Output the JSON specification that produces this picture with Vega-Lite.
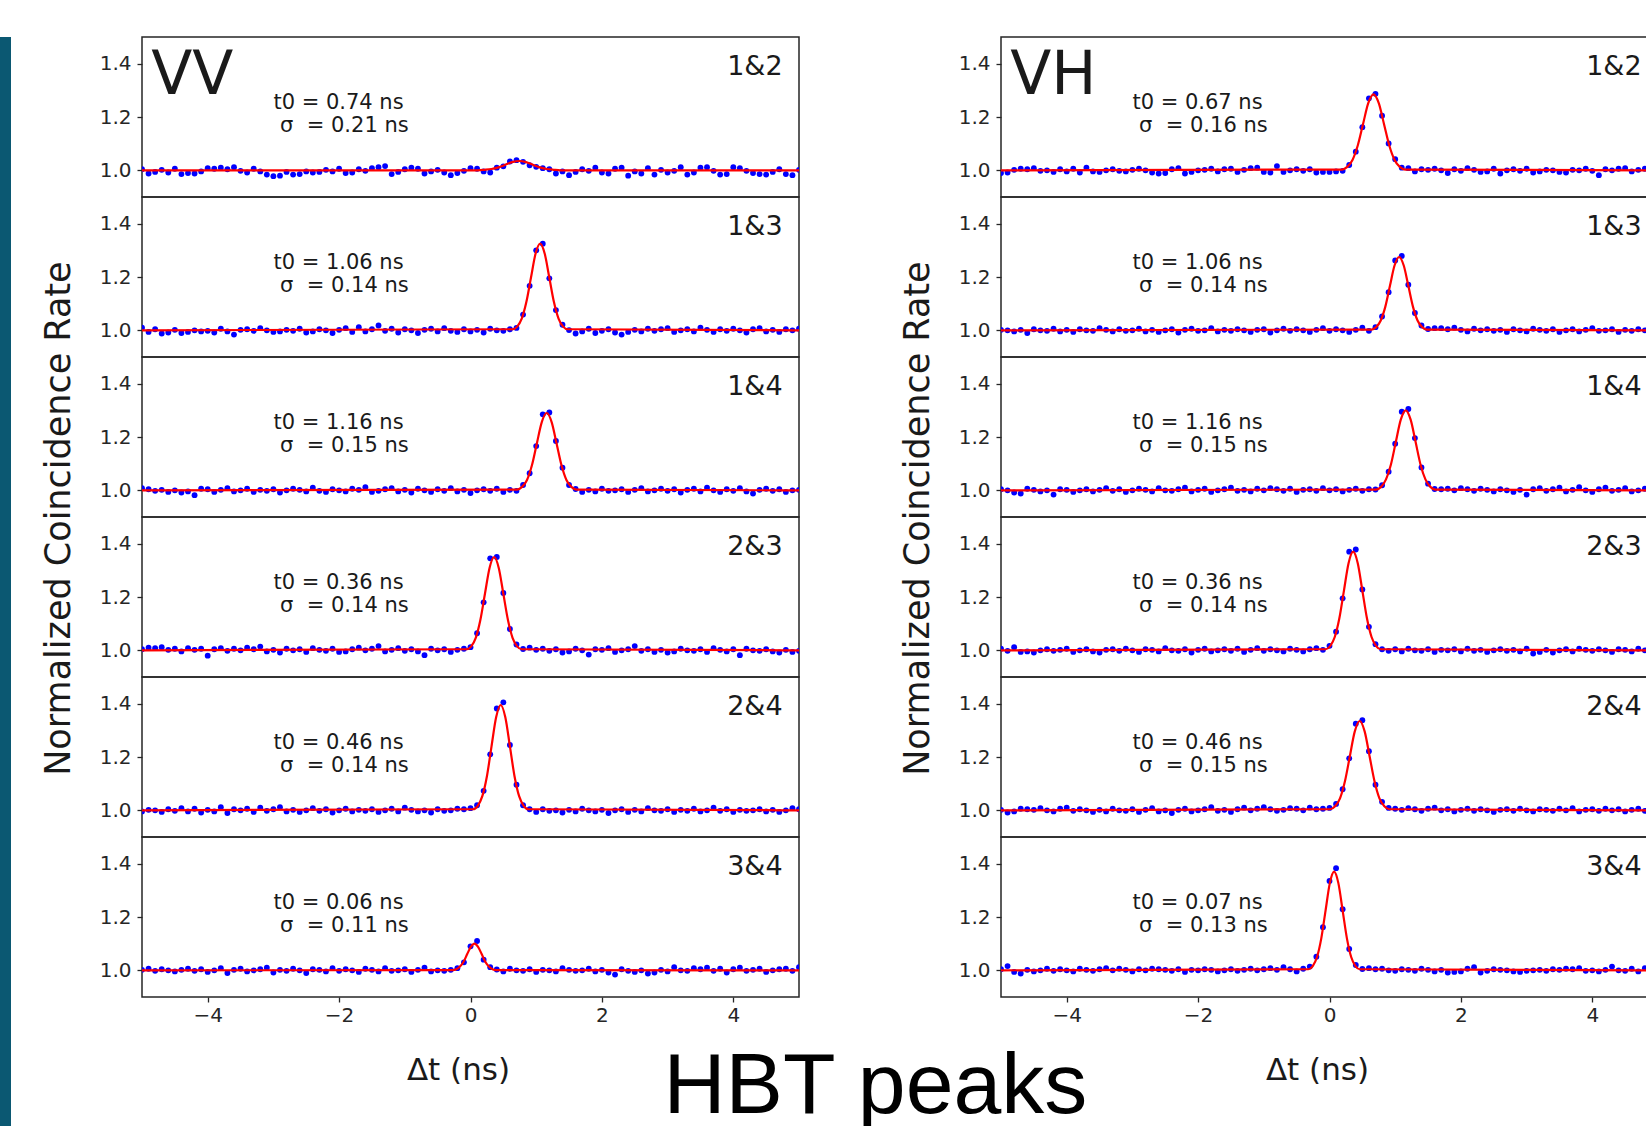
{
"$schema":"https://vega.github.io/schema/vega-lite/v6.json",
"background":"white",
"padding":{"left":0,"top":36,"right":0,"bottom":0},
"datasets":{"d":[
{"k":1,"t":-5,"r":1.004},{"k":1,"t":-4.9,"r":0.988},{"k":1,"t":-4.8,"r":0.994},{"k":1,"t":-4.7,"r":1.002},{"k":1,"t":-4.6,"r":0.992},{"k":1,"t":-4.5,"r":1.006},{"k":1,"t":-4.4,"r":0.986},{"k":1,"t":-4.3,"r":0.99},{"k":1,"t":-4.2,"r":0.988},{"k":1,"t":-4.1,"r":0.996},
{"k":1,"t":-4,"r":1.008},{"k":1,"t":-3.9,"r":1.006},{"k":1,"t":-3.8,"r":1.01},{"k":1,"t":-3.7,"r":1.004},{"k":1,"t":-3.6,"r":1.012},{"k":1,"t":-3.5,"r":0.998},{"k":1,"t":-3.4,"r":0.992},{"k":1,"t":-3.3,"r":1.006},{"k":1,"t":-3.2,"r":0.996},{"k":1,"t":-3.1,"r":0.984},
{"k":1,"t":-3,"r":0.978},{"k":1,"t":-2.9,"r":0.98},{"k":1,"t":-2.8,"r":0.994},{"k":1,"t":-2.7,"r":0.984},{"k":1,"t":-2.6,"r":0.986},{"k":1,"t":-2.5,"r":0.996},{"k":1,"t":-2.4,"r":0.992},{"k":1,"t":-2.3,"r":0.994},{"k":1,"t":-2.2,"r":1.002},{"k":1,"t":-2.1,"r":0.996},
{"k":1,"t":-2,"r":1.006},{"k":1,"t":-1.9,"r":0.99},{"k":1,"t":-1.8,"r":0.992},{"k":1,"t":-1.7,"r":1.004},{"k":1,"t":-1.6,"r":0.998},{"k":1,"t":-1.5,"r":1.008},{"k":1,"t":-1.4,"r":1.012},{"k":1,"t":-1.3,"r":1.016},{"k":1,"t":-1.2,"r":0.986},{"k":1,"t":-1.1,"r":0.994},
{"k":1,"t":-1,"r":1.004},{"k":1,"t":-0.9,"r":1.01},{"k":1,"t":-0.8,"r":1.006},{"k":1,"t":-0.7,"r":0.988},{"k":1,"t":-0.6,"r":0.996},{"k":1,"t":-0.5,"r":1.002},{"k":1,"t":-0.4,"r":0.992},{"k":1,"t":-0.3,"r":0.982},{"k":1,"t":-0.2,"r":0.99},{"k":1,"t":-0.1,"r":0.998},
{"k":1,"t":0,"r":1.008},{"k":1,"t":0.1,"r":1.006},{"k":1,"t":0.2,"r":0.996},{"k":1,"t":0.3,"r":0.992},{"k":1,"t":0.4,"r":1.01},{"k":1,"t":0.5,"r":1.015},{"k":1,"t":0.6,"r":1.033},{"k":1,"t":0.7,"r":1.038},{"k":1,"t":0.8,"r":1.032},{"k":1,"t":0.9,"r":1.019},
{"k":1,"t":1,"r":1.013},{"k":1,"t":1.1,"r":1.008},{"k":1,"t":1.2,"r":1.004},{"k":1,"t":1.3,"r":0.988},{"k":1,"t":1.4,"r":0.996},{"k":1,"t":1.5,"r":0.982},{"k":1,"t":1.6,"r":0.994},{"k":1,"t":1.7,"r":1.004},{"k":1,"t":1.8,"r":0.998},{"k":1,"t":1.9,"r":1.01},
{"k":1,"t":2,"r":0.992},{"k":1,"t":2.1,"r":0.988},{"k":1,"t":2.2,"r":1.006},{"k":1,"t":2.3,"r":1.01},{"k":1,"t":2.4,"r":0.98},{"k":1,"t":2.5,"r":0.996},{"k":1,"t":2.6,"r":0.988},{"k":1,"t":2.7,"r":1.008},{"k":1,"t":2.8,"r":0.984},{"k":1,"t":2.9,"r":1.002},
{"k":1,"t":3,"r":0.992},{"k":1,"t":3.1,"r":0.998},{"k":1,"t":3.2,"r":1.012},{"k":1,"t":3.3,"r":0.984},{"k":1,"t":3.4,"r":0.992},{"k":1,"t":3.5,"r":1.01},{"k":1,"t":3.6,"r":1.012},{"k":1,"t":3.7,"r":0.998},{"k":1,"t":3.8,"r":0.984},{"k":1,"t":3.9,"r":0.986},
{"k":1,"t":4,"r":1.012},{"k":1,"t":4.1,"r":1.008},{"k":1,"t":4.2,"r":0.998},{"k":1,"t":4.3,"r":0.99},{"k":1,"t":4.4,"r":0.986},{"k":1,"t":4.5,"r":0.984},{"k":1,"t":4.6,"r":0.994},{"k":1,"t":4.7,"r":1.004},{"k":1,"t":4.8,"r":0.986},{"k":1,"t":4.9,"r":0.982},{"k":1,"t":5,"r":1.002},

{"k":2,"t":-5,"r":1.01},{"k":2,"t":-4.9,"r":0.994},{"k":2,"t":-4.8,"r":1.004},{"k":2,"t":-4.7,"r":0.988},{"k":2,"t":-4.6,"r":0.992},{"k":2,"t":-4.5,"r":1.002},{"k":2,"t":-4.4,"r":0.99},{"k":2,"t":-4.3,"r":0.994},{"k":2,"t":-4.2,"r":1},{"k":2,"t":-4.1,"r":0.996},
{"k":2,"t":-4,"r":0.998},{"k":2,"t":-3.9,"r":0.992},{"k":2,"t":-3.8,"r":1.006},{"k":2,"t":-3.7,"r":0.996},{"k":2,"t":-3.6,"r":0.984},{"k":2,"t":-3.5,"r":1.002},{"k":2,"t":-3.4,"r":1.004},{"k":2,"t":-3.3,"r":0.998},{"k":2,"t":-3.2,"r":1.008},{"k":2,"t":-3.1,"r":1},
{"k":2,"t":-3,"r":0.994},{"k":2,"t":-2.9,"r":0.996},{"k":2,"t":-2.8,"r":1.002},{"k":2,"t":-2.7,"r":0.998},{"k":2,"t":-2.6,"r":1.006},{"k":2,"t":-2.5,"r":0.992},{"k":2,"t":-2.4,"r":0.996},{"k":2,"t":-2.3,"r":1.004},{"k":2,"t":-2.2,"r":1},{"k":2,"t":-2.1,"r":0.99},
{"k":2,"t":-2,"r":1.002},{"k":2,"t":-1.9,"r":1.008},{"k":2,"t":-1.8,"r":0.994},{"k":2,"t":-1.7,"r":1.012},{"k":2,"t":-1.6,"r":0.996},{"k":2,"t":-1.5,"r":1.004},{"k":2,"t":-1.4,"r":1.018},{"k":2,"t":-1.3,"r":0.998},{"k":2,"t":-1.2,"r":1.006},{"k":2,"t":-1.1,"r":0.992},
{"k":2,"t":-1,"r":1.004},{"k":2,"t":-0.9,"r":1},{"k":2,"t":-0.8,"r":0.99},{"k":2,"t":-0.7,"r":1.002},{"k":2,"t":-0.6,"r":1.006},{"k":2,"t":-0.5,"r":0.996},{"k":2,"t":-0.4,"r":1.008},{"k":2,"t":-0.3,"r":0.998},{"k":2,"t":-0.2,"r":0.994},{"k":2,"t":-0.1,"r":1.004},
{"k":2,"t":0,"r":0.996},{"k":2,"t":0.1,"r":1.002},{"k":2,"t":0.2,"r":0.992},{"k":2,"t":0.3,"r":1.006},{"k":2,"t":0.4,"r":1},{"k":2,"t":0.5,"r":0.998},{"k":2,"t":0.6,"r":1.004},{"k":2,"t":0.7,"r":1.009},{"k":2,"t":0.8,"r":1.059},{"k":2,"t":0.9,"r":1.167},
{"k":2,"t":1,"r":1.3},{"k":2,"t":1.1,"r":1.325},{"k":2,"t":1.2,"r":1.195},{"k":2,"t":1.3,"r":1.076},{"k":2,"t":1.4,"r":1.021},{"k":2,"t":1.5,"r":1.001},{"k":2,"t":1.6,"r":0.988},{"k":2,"t":1.7,"r":0.996},{"k":2,"t":1.8,"r":1.006},{"k":2,"t":1.9,"r":0.99},
{"k":2,"t":2,"r":0.998},{"k":2,"t":2.1,"r":1.004},{"k":2,"t":2.2,"r":0.992},{"k":2,"t":2.3,"r":0.984},{"k":2,"t":2.4,"r":0.994},{"k":2,"t":2.5,"r":1.002},{"k":2,"t":2.6,"r":0.996},{"k":2,"t":2.7,"r":1.006},{"k":2,"t":2.8,"r":0.998},{"k":2,"t":2.9,"r":1.004},
{"k":2,"t":3,"r":1.008},{"k":2,"t":3.1,"r":0.994},{"k":2,"t":3.2,"r":1},{"k":2,"t":3.3,"r":1.004},{"k":2,"t":3.4,"r":0.996},{"k":2,"t":3.5,"r":1.01},{"k":2,"t":3.6,"r":1.002},{"k":2,"t":3.7,"r":0.994},{"k":2,"t":3.8,"r":1.004},{"k":2,"t":3.9,"r":0.998},
{"k":2,"t":4,"r":1.006},{"k":2,"t":4.1,"r":1},{"k":2,"t":4.2,"r":0.992},{"k":2,"t":4.3,"r":1.004},{"k":2,"t":4.4,"r":1.008},{"k":2,"t":4.5,"r":0.996},{"k":2,"t":4.6,"r":1.002},{"k":2,"t":4.7,"r":0.994},{"k":2,"t":4.8,"r":1.004},{"k":2,"t":4.9,"r":1},{"k":2,"t":5,"r":1.006},

{"k":3,"t":-5,"r":1.008},{"k":3,"t":-4.9,"r":1.004},{"k":3,"t":-4.8,"r":0.998},{"k":3,"t":-4.7,"r":1.002},{"k":3,"t":-4.6,"r":0.994},{"k":3,"t":-4.5,"r":1},{"k":3,"t":-4.4,"r":0.992},{"k":3,"t":-4.3,"r":0.996},{"k":3,"t":-4.2,"r":0.982},{"k":3,"t":-4.1,"r":1.006},
{"k":3,"t":-4,"r":1.004},{"k":3,"t":-3.9,"r":0.994},{"k":3,"t":-3.8,"r":1.002},{"k":3,"t":-3.7,"r":1.008},{"k":3,"t":-3.6,"r":0.996},{"k":3,"t":-3.5,"r":1},{"k":3,"t":-3.4,"r":1.006},{"k":3,"t":-3.3,"r":0.994},{"k":3,"t":-3.2,"r":1.002},{"k":3,"t":-3.1,"r":0.998},
{"k":3,"t":-3,"r":1.004},{"k":3,"t":-2.9,"r":0.992},{"k":3,"t":-2.8,"r":1},{"k":3,"t":-2.7,"r":1.006},{"k":3,"t":-2.6,"r":1.002},{"k":3,"t":-2.5,"r":0.996},{"k":3,"t":-2.4,"r":1.01},{"k":3,"t":-2.3,"r":0.998},{"k":3,"t":-2.2,"r":0.994},{"k":3,"t":-2.1,"r":1.004},
{"k":3,"t":-2,"r":1},{"k":3,"t":-1.9,"r":0.996},{"k":3,"t":-1.8,"r":1.006},{"k":3,"t":-1.7,"r":1.002},{"k":3,"t":-1.6,"r":1.012},{"k":3,"t":-1.5,"r":0.994},{"k":3,"t":-1.4,"r":0.998},{"k":3,"t":-1.3,"r":1.004},{"k":3,"t":-1.2,"r":1.008},{"k":3,"t":-1.1,"r":0.996},
{"k":3,"t":-1,"r":1.002},{"k":3,"t":-0.9,"r":0.992},{"k":3,"t":-0.8,"r":1.006},{"k":3,"t":-0.7,"r":1},{"k":3,"t":-0.6,"r":0.994},{"k":3,"t":-0.5,"r":1.004},{"k":3,"t":-0.4,"r":0.998},{"k":3,"t":-0.3,"r":1.008},{"k":3,"t":-0.2,"r":0.996},{"k":3,"t":-0.1,"r":1.002},
{"k":3,"t":0,"r":0.99},{"k":3,"t":0.1,"r":1},{"k":3,"t":0.2,"r":1.004},{"k":3,"t":0.3,"r":0.998},{"k":3,"t":0.4,"r":1.006},{"k":3,"t":0.5,"r":0.994},{"k":3,"t":0.6,"r":1.002},{"k":3,"t":0.7,"r":0.998},{"k":3,"t":0.8,"r":1.02},{"k":3,"t":0.9,"r":1.064},
{"k":3,"t":1,"r":1.166},{"k":3,"t":1.1,"r":1.285},{"k":3,"t":1.2,"r":1.292},{"k":3,"t":1.3,"r":1.185},{"k":3,"t":1.4,"r":1.085},{"k":3,"t":1.5,"r":1.02},{"k":3,"t":1.6,"r":1.005},{"k":3,"t":1.7,"r":0.994},{"k":3,"t":1.8,"r":1.002},{"k":3,"t":1.9,"r":0.996},
{"k":3,"t":2,"r":1.006},{"k":3,"t":2.1,"r":0.998},{"k":3,"t":2.2,"r":1},{"k":3,"t":2.3,"r":1.004},{"k":3,"t":2.4,"r":0.994},{"k":3,"t":2.5,"r":1.002},{"k":3,"t":2.6,"r":1.008},{"k":3,"t":2.7,"r":0.996},{"k":3,"t":2.8,"r":1},{"k":3,"t":2.9,"r":1.006},
{"k":3,"t":3,"r":0.998},{"k":3,"t":3.1,"r":1.004},{"k":3,"t":3.2,"r":0.992},{"k":3,"t":3.3,"r":1.002},{"k":3,"t":3.4,"r":1.006},{"k":3,"t":3.5,"r":0.996},{"k":3,"t":3.6,"r":1.01},{"k":3,"t":3.7,"r":1},{"k":3,"t":3.8,"r":0.994},{"k":3,"t":3.9,"r":1.004},
{"k":3,"t":4,"r":0.998},{"k":3,"t":4.1,"r":1.008},{"k":3,"t":4.2,"r":0.996},{"k":3,"t":4.3,"r":0.988},{"k":3,"t":4.4,"r":1.002},{"k":3,"t":4.5,"r":1.006},{"k":3,"t":4.6,"r":0.998},{"k":3,"t":4.7,"r":1.004},{"k":3,"t":4.8,"r":0.994},{"k":3,"t":4.9,"r":1},{"k":3,"t":5,"r":1.002},

{"k":4,"t":-5,"r":1.004},{"k":4,"t":-4.9,"r":1.01},{"k":4,"t":-4.8,"r":1.008},{"k":4,"t":-4.7,"r":1.012},{"k":4,"t":-4.6,"r":1.002},{"k":4,"t":-4.5,"r":1.006},{"k":4,"t":-4.4,"r":0.996},{"k":4,"t":-4.3,"r":1.008},{"k":4,"t":-4.2,"r":1.002},{"k":4,"t":-4.1,"r":1.006},
{"k":4,"t":-4,"r":0.98},{"k":4,"t":-3.9,"r":1.004},{"k":4,"t":-3.8,"r":1.008},{"k":4,"t":-3.7,"r":0.998},{"k":4,"t":-3.6,"r":1.006},{"k":4,"t":-3.5,"r":1},{"k":4,"t":-3.4,"r":1.01},{"k":4,"t":-3.3,"r":1.004},{"k":4,"t":-3.2,"r":1.014},{"k":4,"t":-3.1,"r":0.996},
{"k":4,"t":-3,"r":1.002},{"k":4,"t":-2.9,"r":0.992},{"k":4,"t":-2.8,"r":1.006},{"k":4,"t":-2.7,"r":1},{"k":4,"t":-2.6,"r":1.004},{"k":4,"t":-2.5,"r":0.994},{"k":4,"t":-2.4,"r":1.008},{"k":4,"t":-2.3,"r":1.002},{"k":4,"t":-2.2,"r":0.998},{"k":4,"t":-2.1,"r":1.006},
{"k":4,"t":-2,"r":0.994},{"k":4,"t":-1.9,"r":0.996},{"k":4,"t":-1.8,"r":1.004},{"k":4,"t":-1.7,"r":1.01},{"k":4,"t":-1.6,"r":1},{"k":4,"t":-1.5,"r":1.006},{"k":4,"t":-1.4,"r":1.016},{"k":4,"t":-1.3,"r":0.996},{"k":4,"t":-1.2,"r":1.002},{"k":4,"t":-1.1,"r":1.008},
{"k":4,"t":-1,"r":0.998},{"k":4,"t":-0.9,"r":1.004},{"k":4,"t":-0.8,"r":0.996},{"k":4,"t":-0.7,"r":0.982},{"k":4,"t":-0.6,"r":1.006},{"k":4,"t":-0.5,"r":1},{"k":4,"t":-0.4,"r":1.004},{"k":4,"t":-0.3,"r":0.994},{"k":4,"t":-0.2,"r":1.002},{"k":4,"t":-0.1,"r":1.006},
{"k":4,"t":0,"r":1.012},{"k":4,"t":0.1,"r":1.064},{"k":4,"t":0.2,"r":1.18},{"k":4,"t":0.3,"r":1.345},{"k":4,"t":0.4,"r":1.35},{"k":4,"t":0.5,"r":1.215},{"k":4,"t":0.6,"r":1.08},{"k":4,"t":0.7,"r":1.022},{"k":4,"t":0.8,"r":1.005},{"k":4,"t":0.9,"r":1.01},
{"k":4,"t":1,"r":1.002},{"k":4,"t":1.1,"r":1.006},{"k":4,"t":1.2,"r":0.998},{"k":4,"t":1.3,"r":1.004},{"k":4,"t":1.4,"r":0.992},{"k":4,"t":1.5,"r":0.996},{"k":4,"t":1.6,"r":1.006},{"k":4,"t":1.7,"r":1},{"k":4,"t":1.8,"r":0.984},{"k":4,"t":1.9,"r":1.004},
{"k":4,"t":2,"r":1.002},{"k":4,"t":2.1,"r":1.008},{"k":4,"t":2.2,"r":0.994},{"k":4,"t":2.3,"r":1},{"k":4,"t":2.4,"r":1.004},{"k":4,"t":2.5,"r":1.016},{"k":4,"t":2.6,"r":0.998},{"k":4,"t":2.7,"r":1.004},{"k":4,"t":2.8,"r":0.994},{"k":4,"t":2.9,"r":1.002},
{"k":4,"t":3,"r":0.992},{"k":4,"t":3.1,"r":0.996},{"k":4,"t":3.2,"r":1.006},{"k":4,"t":3.3,"r":1},{"k":4,"t":3.4,"r":0.998},{"k":4,"t":3.5,"r":1.004},{"k":4,"t":3.6,"r":0.994},{"k":4,"t":3.7,"r":1.008},{"k":4,"t":3.8,"r":1.002},{"k":4,"t":3.9,"r":0.996},
{"k":4,"t":4,"r":1.004},{"k":4,"t":4.1,"r":0.982},{"k":4,"t":4.2,"r":1.006},{"k":4,"t":4.3,"r":1},{"k":4,"t":4.4,"r":0.998},{"k":4,"t":4.5,"r":1.004},{"k":4,"t":4.6,"r":0.996},{"k":4,"t":4.7,"r":0.992},{"k":4,"t":4.8,"r":1.002},{"k":4,"t":4.9,"r":0.994},{"k":4,"t":5,"r":0.998},

{"k":5,"t":-5,"r":0.996},{"k":5,"t":-4.9,"r":1.002},{"k":5,"t":-4.8,"r":1},{"k":5,"t":-4.7,"r":0.994},{"k":5,"t":-4.6,"r":1.004},{"k":5,"t":-4.5,"r":0.998},{"k":5,"t":-4.4,"r":1.008},{"k":5,"t":-4.3,"r":0.996},{"k":5,"t":-4.2,"r":1.006},{"k":5,"t":-4.1,"r":0.992},
{"k":5,"t":-4,"r":1.002},{"k":5,"t":-3.9,"r":0.996},{"k":5,"t":-3.8,"r":1.012},{"k":5,"t":-3.7,"r":0.99},{"k":5,"t":-3.6,"r":1.004},{"k":5,"t":-3.5,"r":1},{"k":5,"t":-3.4,"r":1.006},{"k":5,"t":-3.3,"r":0.994},{"k":5,"t":-3.2,"r":1.01},{"k":5,"t":-3.1,"r":0.998},
{"k":5,"t":-3,"r":1.004},{"k":5,"t":-2.9,"r":1.012},{"k":5,"t":-2.8,"r":0.996},{"k":5,"t":-2.7,"r":1.002},{"k":5,"t":-2.6,"r":0.994},{"k":5,"t":-2.5,"r":1},{"k":5,"t":-2.4,"r":1.008},{"k":5,"t":-2.3,"r":0.998},{"k":5,"t":-2.2,"r":1.004},{"k":5,"t":-2.1,"r":0.992},
{"k":5,"t":-2,"r":1},{"k":5,"t":-1.9,"r":1.006},{"k":5,"t":-1.8,"r":0.996},{"k":5,"t":-1.7,"r":1.002},{"k":5,"t":-1.6,"r":0.998},{"k":5,"t":-1.5,"r":1.004},{"k":5,"t":-1.4,"r":0.994},{"k":5,"t":-1.3,"r":1},{"k":5,"t":-1.2,"r":1.006},{"k":5,"t":-1.1,"r":0.996},
{"k":5,"t":-1,"r":1.01},{"k":5,"t":-0.9,"r":1.002},{"k":5,"t":-0.8,"r":0.996},{"k":5,"t":-0.7,"r":1},{"k":5,"t":-0.6,"r":0.992},{"k":5,"t":-0.5,"r":1.004},{"k":5,"t":-0.4,"r":0.998},{"k":5,"t":-0.3,"r":1},{"k":5,"t":-0.2,"r":1.006},{"k":5,"t":-0.1,"r":1.004},
{"k":5,"t":0,"r":1.008},{"k":5,"t":0.1,"r":1.019},{"k":5,"t":0.2,"r":1.073},{"k":5,"t":0.3,"r":1.21},{"k":5,"t":0.4,"r":1.382},{"k":5,"t":0.5,"r":1.405},{"k":5,"t":0.6,"r":1.245},{"k":5,"t":0.7,"r":1.096},{"k":5,"t":0.8,"r":1.019},{"k":5,"t":0.9,"r":1.004},
{"k":5,"t":1,"r":0.994},{"k":5,"t":1.1,"r":1.004},{"k":5,"t":1.2,"r":0.998},{"k":5,"t":1.3,"r":1},{"k":5,"t":1.4,"r":0.992},{"k":5,"t":1.5,"r":1.002},{"k":5,"t":1.6,"r":0.996},{"k":5,"t":1.7,"r":1.006},{"k":5,"t":1.8,"r":1},{"k":5,"t":1.9,"r":0.996},
{"k":5,"t":2,"r":1.002},{"k":5,"t":2.1,"r":0.99},{"k":5,"t":2.2,"r":1},{"k":5,"t":2.3,"r":1.004},{"k":5,"t":2.4,"r":0.994},{"k":5,"t":2.5,"r":1.002},{"k":5,"t":2.6,"r":0.996},{"k":5,"t":2.7,"r":1.008},{"k":5,"t":2.8,"r":1},{"k":5,"t":2.9,"r":0.998},
{"k":5,"t":3,"r":1.004},{"k":5,"t":3.1,"r":0.994},{"k":5,"t":3.2,"r":1.002},{"k":5,"t":3.3,"r":0.998},{"k":5,"t":3.4,"r":1.006},{"k":5,"t":3.5,"r":0.996},{"k":5,"t":3.6,"r":1},{"k":5,"t":3.7,"r":1.01},{"k":5,"t":3.8,"r":0.998},{"k":5,"t":3.9,"r":1.004},
{"k":5,"t":4,"r":0.994},{"k":5,"t":4.1,"r":1.002},{"k":5,"t":4.2,"r":0.998},{"k":5,"t":4.3,"r":1},{"k":5,"t":4.4,"r":1.004},{"k":5,"t":4.5,"r":0.996},{"k":5,"t":4.6,"r":1.002},{"k":5,"t":4.7,"r":0.994},{"k":5,"t":4.8,"r":1},{"k":5,"t":4.9,"r":1.008},{"k":5,"t":5,"r":1.004},

{"k":6,"t":-5,"r":1.002},{"k":6,"t":-4.9,"r":1.006},{"k":6,"t":-4.8,"r":0.998},{"k":6,"t":-4.7,"r":1.004},{"k":6,"t":-4.6,"r":1},{"k":6,"t":-4.5,"r":0.996},{"k":6,"t":-4.4,"r":1.002},{"k":6,"t":-4.3,"r":1.006},{"k":6,"t":-4.2,"r":0.998},{"k":6,"t":-4.1,"r":1.004},
{"k":6,"t":-4,"r":0.994},{"k":6,"t":-3.9,"r":1},{"k":6,"t":-3.8,"r":1.008},{"k":6,"t":-3.7,"r":0.99},{"k":6,"t":-3.6,"r":1.002},{"k":6,"t":-3.5,"r":1.006},{"k":6,"t":-3.4,"r":0.996},{"k":6,"t":-3.3,"r":1},{"k":6,"t":-3.2,"r":1.004},{"k":6,"t":-3.1,"r":1.01},
{"k":6,"t":-3,"r":0.992},{"k":6,"t":-2.9,"r":1.002},{"k":6,"t":-2.8,"r":0.998},{"k":6,"t":-2.7,"r":1.006},{"k":6,"t":-2.6,"r":1},{"k":6,"t":-2.5,"r":0.99},{"k":6,"t":-2.4,"r":1.004},{"k":6,"t":-2.3,"r":1.002},{"k":6,"t":-2.2,"r":0.996},{"k":6,"t":-2.1,"r":1.008},
{"k":6,"t":-2,"r":0.998},{"k":6,"t":-1.9,"r":1.004},{"k":6,"t":-1.8,"r":1},{"k":6,"t":-1.7,"r":0.994},{"k":6,"t":-1.6,"r":1.006},{"k":6,"t":-1.5,"r":1.002},{"k":6,"t":-1.4,"r":0.996},{"k":6,"t":-1.3,"r":1.008},{"k":6,"t":-1.2,"r":0.998},{"k":6,"t":-1.1,"r":1},
{"k":6,"t":-1,"r":1.004},{"k":6,"t":-0.9,"r":0.994},{"k":6,"t":-0.8,"r":1.002},{"k":6,"t":-0.7,"r":1.01},{"k":6,"t":-0.6,"r":0.996},{"k":6,"t":-0.5,"r":1},{"k":6,"t":-0.4,"r":0.998},{"k":6,"t":-0.3,"r":1.002},{"k":6,"t":-0.2,"r":1.008},{"k":6,"t":-0.1,"r":1.03},
{"k":6,"t":0,"r":1.09},{"k":6,"t":0.1,"r":1.11},{"k":6,"t":0.2,"r":1.04},{"k":6,"t":0.3,"r":1.012},{"k":6,"t":0.4,"r":1.003},{"k":6,"t":0.5,"r":0.996},{"k":6,"t":0.6,"r":1.006},{"k":6,"t":0.7,"r":1},{"k":6,"t":0.8,"r":0.998},{"k":6,"t":0.9,"r":1.004},
{"k":6,"t":1,"r":0.994},{"k":6,"t":1.1,"r":1.002},{"k":6,"t":1.2,"r":1},{"k":6,"t":1.3,"r":0.996},{"k":6,"t":1.4,"r":1.008},{"k":6,"t":1.5,"r":1.002},{"k":6,"t":1.6,"r":0.998},{"k":6,"t":1.7,"r":1},{"k":6,"t":1.8,"r":1.006},{"k":6,"t":1.9,"r":0.996},
{"k":6,"t":2,"r":1.002},{"k":6,"t":2.1,"r":0.992},{"k":6,"t":2.2,"r":0.984},{"k":6,"t":2.3,"r":1.004},{"k":6,"t":2.4,"r":0.998},{"k":6,"t":2.5,"r":0.994},{"k":6,"t":2.6,"r":1},{"k":6,"t":2.7,"r":0.988},{"k":6,"t":2.8,"r":0.992},{"k":6,"t":2.9,"r":1.002},
{"k":6,"t":3,"r":0.996},{"k":6,"t":3.1,"r":1.012},{"k":6,"t":3.2,"r":1},{"k":6,"t":3.3,"r":0.998},{"k":6,"t":3.4,"r":1.008},{"k":6,"t":3.5,"r":1.004},{"k":6,"t":3.6,"r":1.01},{"k":6,"t":3.7,"r":0.998},{"k":6,"t":3.8,"r":1.006},{"k":6,"t":3.9,"r":0.992},
{"k":6,"t":4,"r":1.004},{"k":6,"t":4.1,"r":1.01},{"k":6,"t":4.2,"r":0.998},{"k":6,"t":4.3,"r":1.002},{"k":6,"t":4.4,"r":1.006},{"k":6,"t":4.5,"r":0.994},{"k":6,"t":4.6,"r":1},{"k":6,"t":4.7,"r":1.004},{"k":6,"t":4.8,"r":1.006},{"k":6,"t":4.9,"r":0.998},{"k":6,"t":5,"r":1.012},

{"k":7,"t":-5,"r":0.99},{"k":7,"t":-4.9,"r":0.992},{"k":7,"t":-4.8,"r":1.002},{"k":7,"t":-4.7,"r":1.006},{"k":7,"t":-4.6,"r":1.004},{"k":7,"t":-4.5,"r":1.008},{"k":7,"t":-4.4,"r":0.998},{"k":7,"t":-4.3,"r":1},{"k":7,"t":-4.2,"r":0.994},{"k":7,"t":-4.1,"r":1.004},
{"k":7,"t":-4,"r":0.996},{"k":7,"t":-3.9,"r":1.006},{"k":7,"t":-3.8,"r":0.992},{"k":7,"t":-3.7,"r":1.01},{"k":7,"t":-3.6,"r":0.996},{"k":7,"t":-3.5,"r":0.994},{"k":7,"t":-3.4,"r":1},{"k":7,"t":-3.3,"r":1.004},{"k":7,"t":-3.2,"r":0.998},{"k":7,"t":-3.1,"r":0.996},
{"k":7,"t":-3,"r":1.002},{"k":7,"t":-2.9,"r":1.006},{"k":7,"t":-2.8,"r":1},{"k":7,"t":-2.7,"r":0.992},{"k":7,"t":-2.6,"r":0.988},{"k":7,"t":-2.5,"r":0.99},{"k":7,"t":-2.4,"r":1.004},{"k":7,"t":-2.3,"r":1.008},{"k":7,"t":-2.2,"r":0.988},{"k":7,"t":-2.1,"r":0.994},
{"k":7,"t":-2,"r":1},{"k":7,"t":-1.9,"r":1.002},{"k":7,"t":-1.8,"r":1.006},{"k":7,"t":-1.7,"r":0.996},{"k":7,"t":-1.6,"r":1.004},{"k":7,"t":-1.5,"r":1.006},{"k":7,"t":-1.4,"r":0.994},{"k":7,"t":-1.3,"r":1.002},{"k":7,"t":-1.2,"r":1.008},{"k":7,"t":-1.1,"r":1.01},
{"k":7,"t":-1,"r":0.994},{"k":7,"t":-0.9,"r":0.992},{"k":7,"t":-0.8,"r":1.016},{"k":7,"t":-0.7,"r":0.994},{"k":7,"t":-0.6,"r":1},{"k":7,"t":-0.5,"r":1.004},{"k":7,"t":-0.4,"r":0.998},{"k":7,"t":-0.3,"r":1.004},{"k":7,"t":-0.2,"r":0.992},{"k":7,"t":-0.1,"r":0.994},
{"k":7,"t":0,"r":0.994},{"k":7,"t":0.1,"r":0.996},{"k":7,"t":0.2,"r":0.998},{"k":7,"t":0.3,"r":1.02},{"k":7,"t":0.4,"r":1.07},{"k":7,"t":0.5,"r":1.162},{"k":7,"t":0.6,"r":1.27},{"k":7,"t":0.7,"r":1.287},{"k":7,"t":0.8,"r":1.205},{"k":7,"t":0.9,"r":1.101},
{"k":7,"t":1,"r":1.042},{"k":7,"t":1.1,"r":1.01},{"k":7,"t":1.2,"r":1.008},{"k":7,"t":1.3,"r":0.996},{"k":7,"t":1.4,"r":1.004},{"k":7,"t":1.5,"r":1.002},{"k":7,"t":1.6,"r":1.006},{"k":7,"t":1.7,"r":1},{"k":7,"t":1.8,"r":0.99},{"k":7,"t":1.9,"r":1.004},
{"k":7,"t":2,"r":0.998},{"k":7,"t":2.1,"r":1.008},{"k":7,"t":2.2,"r":1.002},{"k":7,"t":2.3,"r":0.994},{"k":7,"t":2.4,"r":0.996},{"k":7,"t":2.5,"r":1.006},{"k":7,"t":2.6,"r":0.988},{"k":7,"t":2.7,"r":1},{"k":7,"t":2.8,"r":1.004},{"k":7,"t":2.9,"r":0.998},
{"k":7,"t":3,"r":1.006},{"k":7,"t":3.1,"r":0.992},{"k":7,"t":3.2,"r":0.996},{"k":7,"t":3.3,"r":1.002},{"k":7,"t":3.4,"r":1},{"k":7,"t":3.5,"r":0.994},{"k":7,"t":3.6,"r":0.992},{"k":7,"t":3.7,"r":1.002},{"k":7,"t":3.8,"r":1},{"k":7,"t":3.9,"r":1.006},
{"k":7,"t":4,"r":0.998},{"k":7,"t":4.1,"r":0.982},{"k":7,"t":4.2,"r":1.004},{"k":7,"t":4.3,"r":1},{"k":7,"t":4.4,"r":1.006},{"k":7,"t":4.5,"r":1.008},{"k":7,"t":4.6,"r":0.996},{"k":7,"t":4.7,"r":1.002},{"k":7,"t":4.8,"r":1.006},{"k":7,"t":4.9,"r":0.992},{"k":7,"t":5,"r":1.002},

{"k":8,"t":-5,"r":1.002},{"k":8,"t":-4.9,"r":1},{"k":8,"t":-4.8,"r":0.996},{"k":8,"t":-4.7,"r":1.002},{"k":8,"t":-4.6,"r":0.99},{"k":8,"t":-4.5,"r":1.004},{"k":8,"t":-4.4,"r":1},{"k":8,"t":-4.3,"r":0.998},{"k":8,"t":-4.2,"r":1.006},{"k":8,"t":-4.1,"r":0.996},
{"k":8,"t":-4,"r":1.002},{"k":8,"t":-3.9,"r":0.994},{"k":8,"t":-3.8,"r":1.004},{"k":8,"t":-3.7,"r":1},{"k":8,"t":-3.6,"r":0.998},{"k":8,"t":-3.5,"r":1.008},{"k":8,"t":-3.4,"r":1.002},{"k":8,"t":-3.3,"r":0.996},{"k":8,"t":-3.2,"r":1.004},{"k":8,"t":-3.1,"r":0.998},
{"k":8,"t":-3,"r":1},{"k":8,"t":-2.9,"r":1.006},{"k":8,"t":-2.8,"r":0.996},{"k":8,"t":-2.7,"r":1.002},{"k":8,"t":-2.6,"r":0.994},{"k":8,"t":-2.5,"r":1},{"k":8,"t":-2.4,"r":1.004},{"k":8,"t":-2.3,"r":0.992},{"k":8,"t":-2.2,"r":1.002},{"k":8,"t":-2.1,"r":1.006},
{"k":8,"t":-2,"r":0.998},{"k":8,"t":-1.9,"r":1},{"k":8,"t":-1.8,"r":1.008},{"k":8,"t":-1.7,"r":0.996},{"k":8,"t":-1.6,"r":1.002},{"k":8,"t":-1.5,"r":0.998},{"k":8,"t":-1.4,"r":1.004},{"k":8,"t":-1.3,"r":1},{"k":8,"t":-1.2,"r":0.994},{"k":8,"t":-1.1,"r":1.002},
{"k":8,"t":-1,"r":1.004},{"k":8,"t":-0.9,"r":0.992},{"k":8,"t":-0.8,"r":1},{"k":8,"t":-0.7,"r":1.006},{"k":8,"t":-0.6,"r":0.998},{"k":8,"t":-0.5,"r":1.004},{"k":8,"t":-0.4,"r":1},{"k":8,"t":-0.3,"r":0.994},{"k":8,"t":-0.2,"r":1.002},{"k":8,"t":-0.1,"r":1.008},
{"k":8,"t":0,"r":0.998},{"k":8,"t":0.1,"r":1.004},{"k":8,"t":0.2,"r":1},{"k":8,"t":0.3,"r":0.994},{"k":8,"t":0.4,"r":1.002},{"k":8,"t":0.5,"r":1.01},{"k":8,"t":0.6,"r":0.998},{"k":8,"t":0.7,"r":1.012},{"k":8,"t":0.8,"r":1.052},{"k":8,"t":0.9,"r":1.143},
{"k":8,"t":1,"r":1.262},{"k":8,"t":1.1,"r":1.279},{"k":8,"t":1.2,"r":1.171},{"k":8,"t":1.3,"r":1.065},{"k":8,"t":1.4,"r":1.018},{"k":8,"t":1.5,"r":1.005},{"k":8,"t":1.6,"r":1.008},{"k":8,"t":1.7,"r":1.008},{"k":8,"t":1.8,"r":1.004},{"k":8,"t":1.9,"r":1.01},
{"k":8,"t":2,"r":1.002},{"k":8,"t":2.1,"r":0.996},{"k":8,"t":2.2,"r":1.006},{"k":8,"t":2.3,"r":1},{"k":8,"t":2.4,"r":1.004},{"k":8,"t":2.5,"r":0.998},{"k":8,"t":2.6,"r":1.002},{"k":8,"t":2.7,"r":0.994},{"k":8,"t":2.8,"r":1.004},{"k":8,"t":2.9,"r":1},
{"k":8,"t":3,"r":0.996},{"k":8,"t":3.1,"r":1.006},{"k":8,"t":3.2,"r":1.002},{"k":8,"t":3.3,"r":0.998},{"k":8,"t":3.4,"r":1.004},{"k":8,"t":3.5,"r":0.994},{"k":8,"t":3.6,"r":1},{"k":8,"t":3.7,"r":1.004},{"k":8,"t":3.8,"r":0.996},{"k":8,"t":3.9,"r":1.002},
{"k":8,"t":4,"r":1.008},{"k":8,"t":4.1,"r":0.998},{"k":8,"t":4.2,"r":1},{"k":8,"t":4.3,"r":1.004},{"k":8,"t":4.4,"r":0.994},{"k":8,"t":4.5,"r":1.002},{"k":8,"t":4.6,"r":0.998},{"k":8,"t":4.7,"r":1.004},{"k":8,"t":4.8,"r":1},{"k":8,"t":4.9,"r":1.006},{"k":8,"t":5,"r":1.002},

{"k":9,"t":-5,"r":1.004},{"k":9,"t":-4.9,"r":1},{"k":9,"t":-4.8,"r":0.992},{"k":9,"t":-4.7,"r":0.988},{"k":9,"t":-4.6,"r":1.006},{"k":9,"t":-4.5,"r":1.002},{"k":9,"t":-4.4,"r":0.996},{"k":9,"t":-4.3,"r":1},{"k":9,"t":-4.2,"r":0.984},{"k":9,"t":-4.1,"r":1.004},
{"k":9,"t":-4,"r":1.002},{"k":9,"t":-3.9,"r":0.994},{"k":9,"t":-3.8,"r":1},{"k":9,"t":-3.7,"r":1.004},{"k":9,"t":-3.6,"r":0.996},{"k":9,"t":-3.5,"r":1.002},{"k":9,"t":-3.4,"r":1.008},{"k":9,"t":-3.3,"r":0.998},{"k":9,"t":-3.2,"r":1.004},{"k":9,"t":-3.1,"r":0.994},
{"k":9,"t":-3,"r":1},{"k":9,"t":-2.9,"r":1.006},{"k":9,"t":-2.8,"r":1.002},{"k":9,"t":-2.7,"r":0.996},{"k":9,"t":-2.6,"r":1.008},{"k":9,"t":-2.5,"r":1},{"k":9,"t":-2.4,"r":0.998},{"k":9,"t":-2.3,"r":1.004},{"k":9,"t":-2.2,"r":1.01},{"k":9,"t":-2.1,"r":0.996},
{"k":9,"t":-2,"r":1.002},{"k":9,"t":-1.9,"r":1.006},{"k":9,"t":-1.8,"r":0.994},{"k":9,"t":-1.7,"r":1},{"k":9,"t":-1.6,"r":1.004},{"k":9,"t":-1.5,"r":1.01},{"k":9,"t":-1.4,"r":0.998},{"k":9,"t":-1.3,"r":1.002},{"k":9,"t":-1.2,"r":0.996},{"k":9,"t":-1.1,"r":1.006},
{"k":9,"t":-1,"r":1},{"k":9,"t":-0.9,"r":1.008},{"k":9,"t":-0.8,"r":1.004},{"k":9,"t":-0.7,"r":0.998},{"k":9,"t":-0.6,"r":1.006},{"k":9,"t":-0.5,"r":0.994},{"k":9,"t":-0.4,"r":1.002},{"k":9,"t":-0.3,"r":1.004},{"k":9,"t":-0.2,"r":0.998},{"k":9,"t":-0.1,"r":1.008},
{"k":9,"t":0,"r":1},{"k":9,"t":0.1,"r":1.004},{"k":9,"t":0.2,"r":0.996},{"k":9,"t":0.3,"r":1.002},{"k":9,"t":0.4,"r":1.006},{"k":9,"t":0.5,"r":0.998},{"k":9,"t":0.6,"r":1.004},{"k":9,"t":0.7,"r":1.003},{"k":9,"t":0.8,"r":1.019},{"k":9,"t":0.9,"r":1.07},
{"k":9,"t":1,"r":1.175},{"k":9,"t":1.1,"r":1.295},{"k":9,"t":1.2,"r":1.305},{"k":9,"t":1.3,"r":1.196},{"k":9,"t":1.4,"r":1.086},{"k":9,"t":1.5,"r":1.025},{"k":9,"t":1.6,"r":1.005},{"k":9,"t":1.7,"r":1.004},{"k":9,"t":1.8,"r":1.006},{"k":9,"t":1.9,"r":1},
{"k":9,"t":2,"r":1.008},{"k":9,"t":2.1,"r":1.004},{"k":9,"t":2.2,"r":0.998},{"k":9,"t":2.3,"r":1.006},{"k":9,"t":2.4,"r":1.002},{"k":9,"t":2.5,"r":0.996},{"k":9,"t":2.6,"r":1.004},{"k":9,"t":2.7,"r":1},{"k":9,"t":2.8,"r":0.994},{"k":9,"t":2.9,"r":1.002},
{"k":9,"t":3,"r":0.984},{"k":9,"t":3.1,"r":1.004},{"k":9,"t":3.2,"r":1.008},{"k":9,"t":3.3,"r":0.998},{"k":9,"t":3.4,"r":1.004},{"k":9,"t":3.5,"r":1.01},{"k":9,"t":3.6,"r":0.996},{"k":9,"t":3.7,"r":1.002},{"k":9,"t":3.8,"r":1.012},{"k":9,"t":3.9,"r":1},
{"k":9,"t":4,"r":0.994},{"k":9,"t":4.1,"r":1.004},{"k":9,"t":4.2,"r":1.01},{"k":9,"t":4.3,"r":0.998},{"k":9,"t":4.4,"r":1.002},{"k":9,"t":4.5,"r":1.008},{"k":9,"t":4.6,"r":0.996},{"k":9,"t":4.7,"r":1},{"k":9,"t":4.8,"r":1.006},{"k":9,"t":4.9,"r":0.998},{"k":9,"t":5,"r":1.004},

{"k":10,"t":-5,"r":1.006},{"k":10,"t":-4.9,"r":0.998},{"k":10,"t":-4.8,"r":1.012},{"k":10,"t":-4.7,"r":0.994},{"k":10,"t":-4.6,"r":0.996},{"k":10,"t":-4.5,"r":0.992},{"k":10,"t":-4.4,"r":1},{"k":10,"t":-4.3,"r":1.004},{"k":10,"t":-4.2,"r":0.998},{"k":10,"t":-4.1,"r":1.002},
{"k":10,"t":-4,"r":1.006},{"k":10,"t":-3.9,"r":0.994},{"k":10,"t":-3.8,"r":1},{"k":10,"t":-3.7,"r":1.004},{"k":10,"t":-3.6,"r":0.996},{"k":10,"t":-3.5,"r":0.992},{"k":10,"t":-3.4,"r":1.002},{"k":10,"t":-3.3,"r":1.004},{"k":10,"t":-3.2,"r":0.998},{"k":10,"t":-3.1,"r":1.006},
{"k":10,"t":-3,"r":1},{"k":10,"t":-2.9,"r":0.994},{"k":10,"t":-2.8,"r":1.004},{"k":10,"t":-2.7,"r":1.002},{"k":10,"t":-2.6,"r":0.996},{"k":10,"t":-2.5,"r":1.008},{"k":10,"t":-2.4,"r":1},{"k":10,"t":-2.3,"r":0.998},{"k":10,"t":-2.2,"r":1.004},{"k":10,"t":-2.1,"r":0.992},
{"k":10,"t":-2,"r":1.002},{"k":10,"t":-1.9,"r":1.006},{"k":10,"t":-1.8,"r":0.996},{"k":10,"t":-1.7,"r":1},{"k":10,"t":-1.6,"r":1.004},{"k":10,"t":-1.5,"r":0.998},{"k":10,"t":-1.4,"r":1.006},{"k":10,"t":-1.3,"r":0.994},{"k":10,"t":-1.2,"r":1.002},{"k":10,"t":-1.1,"r":1.008},
{"k":10,"t":-1,"r":0.998},{"k":10,"t":-0.9,"r":1.004},{"k":10,"t":-0.8,"r":1},{"k":10,"t":-0.7,"r":0.996},{"k":10,"t":-0.6,"r":1.006},{"k":10,"t":-0.5,"r":1.002},{"k":10,"t":-0.4,"r":0.996},{"k":10,"t":-0.3,"r":1.004},{"k":10,"t":-0.2,"r":1.008},{"k":10,"t":-0.1,"r":1.002},
{"k":10,"t":0,"r":1.017},{"k":10,"t":0.1,"r":1.07},{"k":10,"t":0.2,"r":1.195},{"k":10,"t":0.3,"r":1.37},{"k":10,"t":0.4,"r":1.378},{"k":10,"t":0.5,"r":1.228},{"k":10,"t":0.6,"r":1.088},{"k":10,"t":0.7,"r":1.023},{"k":10,"t":0.8,"r":1.004},{"k":10,"t":0.9,"r":0.998},
{"k":10,"t":1,"r":1.004},{"k":10,"t":1.1,"r":0.996},{"k":10,"t":1.2,"r":1.006},{"k":10,"t":1.3,"r":1},{"k":10,"t":1.4,"r":0.998},{"k":10,"t":1.5,"r":1.004},{"k":10,"t":1.6,"r":0.994},{"k":10,"t":1.7,"r":1.002},{"k":10,"t":1.8,"r":1},{"k":10,"t":1.9,"r":1.004},
{"k":10,"t":2,"r":0.996},{"k":10,"t":2.1,"r":1.006},{"k":10,"t":2.2,"r":0.998},{"k":10,"t":2.3,"r":1.002},{"k":10,"t":2.4,"r":0.994},{"k":10,"t":2.5,"r":1},{"k":10,"t":2.6,"r":1.004},{"k":10,"t":2.7,"r":0.998},{"k":10,"t":2.8,"r":1.002},{"k":10,"t":2.9,"r":0.996},
{"k":10,"t":3,"r":1.006},{"k":10,"t":3.1,"r":0.988},{"k":10,"t":3.2,"r":0.994},{"k":10,"t":3.3,"r":1.002},{"k":10,"t":3.4,"r":0.992},{"k":10,"t":3.5,"r":1},{"k":10,"t":3.6,"r":1.004},{"k":10,"t":3.7,"r":0.996},{"k":10,"t":3.8,"r":1.006},{"k":10,"t":3.9,"r":1.002},
{"k":10,"t":4,"r":0.998},{"k":10,"t":4.1,"r":1.004},{"k":10,"t":4.2,"r":1},{"k":10,"t":4.3,"r":0.994},{"k":10,"t":4.4,"r":1.004},{"k":10,"t":4.5,"r":1.002},{"k":10,"t":4.6,"r":0.996},{"k":10,"t":4.7,"r":1.006},{"k":10,"t":4.8,"r":1},{"k":10,"t":4.9,"r":0.998},{"k":10,"t":5,"r":1.004},

{"k":11,"t":-5,"r":1.002},{"k":11,"t":-4.9,"r":0.992},{"k":11,"t":-4.8,"r":0.996},{"k":11,"t":-4.7,"r":1.006},{"k":11,"t":-4.6,"r":1.004},{"k":11,"t":-4.5,"r":1.002},{"k":11,"t":-4.4,"r":1.008},{"k":11,"t":-4.3,"r":1},{"k":11,"t":-4.2,"r":0.996},{"k":11,"t":-4.1,"r":1.006},
{"k":11,"t":-4,"r":1.01},{"k":11,"t":-3.9,"r":0.998},{"k":11,"t":-3.8,"r":1.004},{"k":11,"t":-3.7,"r":1},{"k":11,"t":-3.6,"r":0.994},{"k":11,"t":-3.5,"r":1.002},{"k":11,"t":-3.4,"r":0.996},{"k":11,"t":-3.3,"r":1.006},{"k":11,"t":-3.2,"r":1},{"k":11,"t":-3.1,"r":0.998},
{"k":11,"t":-3,"r":1.004},{"k":11,"t":-2.9,"r":0.994},{"k":11,"t":-2.8,"r":1.002},{"k":11,"t":-2.7,"r":1.008},{"k":11,"t":-2.6,"r":0.996},{"k":11,"t":-2.5,"r":1},{"k":11,"t":-2.4,"r":0.99},{"k":11,"t":-2.3,"r":1.002},{"k":11,"t":-2.2,"r":1.006},{"k":11,"t":-2.1,"r":0.996},
{"k":11,"t":-2,"r":1},{"k":11,"t":-1.9,"r":1.004},{"k":11,"t":-1.8,"r":1.012},{"k":11,"t":-1.7,"r":0.998},{"k":11,"t":-1.6,"r":1.002},{"k":11,"t":-1.5,"r":0.994},{"k":11,"t":-1.4,"r":1.004},{"k":11,"t":-1.3,"r":1.01},{"k":11,"t":-1.2,"r":1},{"k":11,"t":-1.1,"r":1.006},
{"k":11,"t":-1,"r":1.012},{"k":11,"t":-0.9,"r":1.004},{"k":11,"t":-0.8,"r":0.998},{"k":11,"t":-0.7,"r":1.002},{"k":11,"t":-0.6,"r":1.008},{"k":11,"t":-0.5,"r":1.006},{"k":11,"t":-0.4,"r":1},{"k":11,"t":-0.3,"r":1.01},{"k":11,"t":-0.2,"r":1.004},{"k":11,"t":-0.1,"r":1.006},
{"k":11,"t":0,"r":1.009},{"k":11,"t":0.1,"r":1.024},{"k":11,"t":0.2,"r":1.079},{"k":11,"t":0.3,"r":1.195},{"k":11,"t":0.4,"r":1.325},{"k":11,"t":0.5,"r":1.338},{"k":11,"t":0.6,"r":1.222},{"k":11,"t":0.7,"r":1.096},{"k":11,"t":0.8,"r":1.032},{"k":11,"t":0.9,"r":1.009},
{"k":11,"t":1,"r":1.006},{"k":11,"t":1.1,"r":1.002},{"k":11,"t":1.2,"r":1.008},{"k":11,"t":1.3,"r":1.004},{"k":11,"t":1.4,"r":0.998},{"k":11,"t":1.5,"r":1.006},{"k":11,"t":1.6,"r":1.01},{"k":11,"t":1.7,"r":1},{"k":11,"t":1.8,"r":1.004},{"k":11,"t":1.9,"r":0.996},
{"k":11,"t":2,"r":1.002},{"k":11,"t":2.1,"r":1.006},{"k":11,"t":2.2,"r":0.998},{"k":11,"t":2.3,"r":1.004},{"k":11,"t":2.4,"r":1},{"k":11,"t":2.5,"r":0.994},{"k":11,"t":2.6,"r":1.002},{"k":11,"t":2.7,"r":1.004},{"k":11,"t":2.8,"r":0.998},{"k":11,"t":2.9,"r":1.006},
{"k":11,"t":3,"r":1},{"k":11,"t":3.1,"r":0.996},{"k":11,"t":3.2,"r":1.004},{"k":11,"t":3.3,"r":1.002},{"k":11,"t":3.4,"r":0.998},{"k":11,"t":3.5,"r":1.006},{"k":11,"t":3.6,"r":1},{"k":11,"t":3.7,"r":1.008},{"k":11,"t":3.8,"r":0.996},{"k":11,"t":3.9,"r":1.002},
{"k":11,"t":4,"r":1.004},{"k":11,"t":4.1,"r":0.998},{"k":11,"t":4.2,"r":1.006},{"k":11,"t":4.3,"r":1},{"k":11,"t":4.4,"r":1.004},{"k":11,"t":4.5,"r":0.996},{"k":11,"t":4.6,"r":1.002},{"k":11,"t":4.7,"r":1.006},{"k":11,"t":4.8,"r":0.998},{"k":11,"t":4.9,"r":1.004},{"k":11,"t":5,"r":1},

{"k":12,"t":-5,"r":1.004},{"k":12,"t":-4.9,"r":1.016},{"k":12,"t":-4.8,"r":0.994},{"k":12,"t":-4.7,"r":0.988},{"k":12,"t":-4.6,"r":1.002},{"k":12,"t":-4.5,"r":0.996},{"k":12,"t":-4.4,"r":1},{"k":12,"t":-4.3,"r":1.006},{"k":12,"t":-4.2,"r":0.998},{"k":12,"t":-4.1,"r":1.004},
{"k":12,"t":-4,"r":1},{"k":12,"t":-3.9,"r":0.996},{"k":12,"t":-3.8,"r":1.006},{"k":12,"t":-3.7,"r":1.002},{"k":12,"t":-3.6,"r":0.998},{"k":12,"t":-3.5,"r":1.004},{"k":12,"t":-3.4,"r":1.008},{"k":12,"t":-3.3,"r":1},{"k":12,"t":-3.2,"r":1.006},{"k":12,"t":-3.1,"r":1.002},
{"k":12,"t":-3,"r":0.996},{"k":12,"t":-2.9,"r":1.004},{"k":12,"t":-2.8,"r":1},{"k":12,"t":-2.7,"r":1.006},{"k":12,"t":-2.6,"r":1.004},{"k":12,"t":-2.5,"r":1.002},{"k":12,"t":-2.4,"r":0.998},{"k":12,"t":-2.3,"r":1.004},{"k":12,"t":-2.2,"r":0.994},{"k":12,"t":-2.1,"r":1.002},
{"k":12,"t":-2,"r":1},{"k":12,"t":-1.9,"r":1.004},{"k":12,"t":-1.8,"r":1.002},{"k":12,"t":-1.7,"r":0.996},{"k":12,"t":-1.6,"r":1},{"k":12,"t":-1.5,"r":1.004},{"k":12,"t":-1.4,"r":0.998},{"k":12,"t":-1.3,"r":1.002},{"k":12,"t":-1.2,"r":1.006},{"k":12,"t":-1.1,"r":1},
{"k":12,"t":-1,"r":1.004},{"k":12,"t":-0.9,"r":1.008},{"k":12,"t":-0.8,"r":1.002},{"k":12,"t":-0.7,"r":1.012},{"k":12,"t":-0.6,"r":1.004},{"k":12,"t":-0.5,"r":0.996},{"k":12,"t":-0.4,"r":1.006},{"k":12,"t":-0.3,"r":1.014},{"k":12,"t":-0.2,"r":1.051},{"k":12,"t":-0.1,"r":1.162},
{"k":12,"t":0,"r":1.335},{"k":12,"t":0.1,"r":1.383},{"k":12,"t":0.2,"r":1.229},{"k":12,"t":0.3,"r":1.08},{"k":12,"t":0.4,"r":1.02},{"k":12,"t":0.5,"r":1.005},{"k":12,"t":0.6,"r":1.008},{"k":12,"t":0.7,"r":1.004},{"k":12,"t":0.8,"r":1.006},{"k":12,"t":0.9,"r":1},
{"k":12,"t":1,"r":0.998},{"k":12,"t":1.1,"r":1.004},{"k":12,"t":1.2,"r":1.002},{"k":12,"t":1.3,"r":0.998},{"k":12,"t":1.4,"r":1.006},{"k":12,"t":1.5,"r":1.002},{"k":12,"t":1.6,"r":0.996},{"k":12,"t":1.7,"r":1.002},{"k":12,"t":1.8,"r":0.992},{"k":12,"t":1.9,"r":0.994},
{"k":12,"t":2,"r":0.996},{"k":12,"t":2.1,"r":1.006},{"k":12,"t":2.2,"r":1.012},{"k":12,"t":2.3,"r":0.992},{"k":12,"t":2.4,"r":0.998},{"k":12,"t":2.5,"r":1.004},{"k":12,"t":2.6,"r":1.002},{"k":12,"t":2.7,"r":1},{"k":12,"t":2.8,"r":0.996},{"k":12,"t":2.9,"r":0.994},
{"k":12,"t":3,"r":0.998},{"k":12,"t":3.1,"r":1},{"k":12,"t":3.2,"r":1.002},{"k":12,"t":3.3,"r":0.998},{"k":12,"t":3.4,"r":1.004},{"k":12,"t":3.5,"r":1.002},{"k":12,"t":3.6,"r":1.006},{"k":12,"t":3.7,"r":1.004},{"k":12,"t":3.8,"r":1.008},{"k":12,"t":3.9,"r":0.998},
{"k":12,"t":4,"r":1},{"k":12,"t":4.1,"r":0.996},{"k":12,"t":4.2,"r":1.002},{"k":12,"t":4.3,"r":1.014},{"k":12,"t":4.4,"r":1},{"k":12,"t":4.5,"r":0.998},{"k":12,"t":4.6,"r":1.006},{"k":12,"t":4.7,"r":0.996},{"k":12,"t":4.8,"r":1.008},{"k":12,"t":4.9,"r":1.002},{"k":12,"t":5,"r":1.004},

{"k":1,"g":1,"t":-5,"r":1},{"k":1,"g":1,"t":0.11,"r":1},{"k":1,"g":1,"t":0.215,"r":1.002},{"k":1,"g":1,"t":0.32,"r":1.005},{"k":1,"g":1,"t":0.425,"r":1.011},{"k":1,"g":1,"t":0.53,"r":1.021},{"k":1,"g":1,"t":0.635,"r":1.031},{"k":1,"g":1,"t":0.74,"r":1.035},{"k":1,"g":1,"t":0.845,"r":1.031},{"k":1,"g":1,"t":0.95,"r":1.021},{"k":1,"g":1,"t":1.055,"r":1.011},{"k":1,"g":1,"t":1.16,"r":1.005},{"k":1,"g":1,"t":1.265,"r":1.002},{"k":1,"g":1,"t":1.37,"r":1},{"k":1,"g":1,"t":5,"r":1},
{"k":2,"g":1,"t":-5,"r":1},{"k":2,"g":1,"t":0.64,"r":1.004},{"k":2,"g":1,"t":0.71,"r":1.014},{"k":2,"g":1,"t":0.78,"r":1.044},{"k":2,"g":1,"t":0.85,"r":1.106},{"k":2,"g":1,"t":0.92,"r":1.197},{"k":2,"g":1,"t":0.99,"r":1.287},{"k":2,"g":1,"t":1.06,"r":1.325},{"k":2,"g":1,"t":1.13,"r":1.287},{"k":2,"g":1,"t":1.2,"r":1.197},{"k":2,"g":1,"t":1.27,"r":1.106},{"k":2,"g":1,"t":1.34,"r":1.044},{"k":2,"g":1,"t":1.41,"r":1.014},{"k":2,"g":1,"t":1.48,"r":1.004},{"k":2,"g":1,"t":5,"r":1},
{"k":3,"g":1,"t":-5,"r":1},{"k":3,"g":1,"t":0.71,"r":1.003},{"k":3,"g":1,"t":0.785,"r":1.013},{"k":3,"g":1,"t":0.86,"r":1.039},{"k":3,"g":1,"t":0.935,"r":1.094},{"k":3,"g":1,"t":1.01,"r":1.176},{"k":3,"g":1,"t":1.085,"r":1.256},{"k":3,"g":1,"t":1.16,"r":1.29},{"k":3,"g":1,"t":1.235,"r":1.256},{"k":3,"g":1,"t":1.31,"r":1.176},{"k":3,"g":1,"t":1.385,"r":1.094},{"k":3,"g":1,"t":1.46,"r":1.039},{"k":3,"g":1,"t":1.535,"r":1.013},{"k":3,"g":1,"t":1.61,"r":1.003},{"k":3,"g":1,"t":5,"r":1},
{"k":4,"g":1,"t":-5,"r":1},{"k":4,"g":1,"t":-0.06,"r":1.004},{"k":4,"g":1,"t":0.01,"r":1.015},{"k":4,"g":1,"t":0.08,"r":1.047},{"k":4,"g":1,"t":0.15,"r":1.114},{"k":4,"g":1,"t":0.22,"r":1.212},{"k":4,"g":1,"t":0.29,"r":1.309},{"k":4,"g":1,"t":0.36,"r":1.35},{"k":4,"g":1,"t":0.43,"r":1.309},{"k":4,"g":1,"t":0.5,"r":1.212},{"k":4,"g":1,"t":0.57,"r":1.114},{"k":4,"g":1,"t":0.64,"r":1.047},{"k":4,"g":1,"t":0.71,"r":1.015},{"k":4,"g":1,"t":0.78,"r":1.004},{"k":4,"g":1,"t":5,"r":1},
{"k":5,"g":1,"t":-5,"r":1},{"k":5,"g":1,"t":0.04,"r":1.004},{"k":5,"g":1,"t":0.11,"r":1.017},{"k":5,"g":1,"t":0.18,"r":1.053},{"k":5,"g":1,"t":0.25,"r":1.128},{"k":5,"g":1,"t":0.32,"r":1.24},{"k":5,"g":1,"t":0.39,"r":1.349},{"k":5,"g":1,"t":0.46,"r":1.395},{"k":5,"g":1,"t":0.53,"r":1.349},{"k":5,"g":1,"t":0.6,"r":1.24},{"k":5,"g":1,"t":0.67,"r":1.128},{"k":5,"g":1,"t":0.74,"r":1.053},{"k":5,"g":1,"t":0.81,"r":1.017},{"k":5,"g":1,"t":0.88,"r":1.004},{"k":5,"g":1,"t":5,"r":1},
{"k":6,"g":1,"t":-5,"r":1},{"k":6,"g":1,"t":-0.27,"r":1.001},{"k":6,"g":1,"t":-0.215,"r":1.004},{"k":6,"g":1,"t":-0.16,"r":1.014},{"k":6,"g":1,"t":-0.105,"r":1.032},{"k":6,"g":1,"t":-0.05,"r":1.061},{"k":6,"g":1,"t":0.005,"r":1.088},{"k":6,"g":1,"t":0.06,"r":1.1},{"k":6,"g":1,"t":0.115,"r":1.088},{"k":6,"g":1,"t":0.17,"r":1.061},{"k":6,"g":1,"t":0.225,"r":1.032},{"k":6,"g":1,"t":0.28,"r":1.014},{"k":6,"g":1,"t":0.335,"r":1.004},{"k":6,"g":1,"t":0.39,"r":1.001},{"k":6,"g":1,"t":5,"r":1},
{"k":7,"g":1,"t":-5,"r":1},{"k":7,"g":1,"t":0.19,"r":1.003},{"k":7,"g":1,"t":0.27,"r":1.013},{"k":7,"g":1,"t":0.35,"r":1.039},{"k":7,"g":1,"t":0.43,"r":1.093},{"k":7,"g":1,"t":0.51,"r":1.173},{"k":7,"g":1,"t":0.59,"r":1.252},{"k":7,"g":1,"t":0.67,"r":1.285},{"k":7,"g":1,"t":0.75,"r":1.252},{"k":7,"g":1,"t":0.83,"r":1.173},{"k":7,"g":1,"t":0.91,"r":1.093},{"k":7,"g":1,"t":0.99,"r":1.039},{"k":7,"g":1,"t":1.07,"r":1.013},{"k":7,"g":1,"t":1.15,"r":1.003},{"k":7,"g":1,"t":5,"r":1},
{"k":8,"g":1,"t":-5,"r":1},{"k":8,"g":1,"t":0.64,"r":1.003},{"k":8,"g":1,"t":0.71,"r":1.012},{"k":8,"g":1,"t":0.78,"r":1.037},{"k":8,"g":1,"t":0.85,"r":1.089},{"k":8,"g":1,"t":0.92,"r":1.167},{"k":8,"g":1,"t":0.99,"r":1.243},{"k":8,"g":1,"t":1.06,"r":1.275},{"k":8,"g":1,"t":1.13,"r":1.243},{"k":8,"g":1,"t":1.2,"r":1.167},{"k":8,"g":1,"t":1.27,"r":1.089},{"k":8,"g":1,"t":1.34,"r":1.037},{"k":8,"g":1,"t":1.41,"r":1.012},{"k":8,"g":1,"t":1.48,"r":1.003},{"k":8,"g":1,"t":5,"r":1},
{"k":9,"g":1,"t":-5,"r":1},{"k":9,"g":1,"t":0.71,"r":1.003},{"k":9,"g":1,"t":0.785,"r":1.013},{"k":9,"g":1,"t":0.86,"r":1.041},{"k":9,"g":1,"t":0.935,"r":1.097},{"k":9,"g":1,"t":1.01,"r":1.182},{"k":9,"g":1,"t":1.085,"r":1.265},{"k":9,"g":1,"t":1.16,"r":1.3},{"k":9,"g":1,"t":1.235,"r":1.265},{"k":9,"g":1,"t":1.31,"r":1.182},{"k":9,"g":1,"t":1.385,"r":1.097},{"k":9,"g":1,"t":1.46,"r":1.041},{"k":9,"g":1,"t":1.535,"r":1.013},{"k":9,"g":1,"t":1.61,"r":1.003},{"k":9,"g":1,"t":5,"r":1},
{"k":10,"g":1,"t":-5,"r":1},{"k":10,"g":1,"t":-0.06,"r":1.004},{"k":10,"g":1,"t":0.01,"r":1.016},{"k":10,"g":1,"t":0.08,"r":1.05},{"k":10,"g":1,"t":0.15,"r":1.12},{"k":10,"g":1,"t":0.22,"r":1.224},{"k":10,"g":1,"t":0.29,"r":1.327},{"k":10,"g":1,"t":0.36,"r":1.37},{"k":10,"g":1,"t":0.43,"r":1.327},{"k":10,"g":1,"t":0.5,"r":1.224},{"k":10,"g":1,"t":0.57,"r":1.12},{"k":10,"g":1,"t":0.64,"r":1.05},{"k":10,"g":1,"t":0.71,"r":1.016},{"k":10,"g":1,"t":0.78,"r":1.004},{"k":10,"g":1,"t":5,"r":1},
{"k":11,"g":1,"t":-5,"r":1},{"k":11,"g":1,"t":0.01,"r":1.004},{"k":11,"g":1,"t":0.085,"r":1.015},{"k":11,"g":1,"t":0.16,"r":1.045},{"k":11,"g":1,"t":0.235,"r":1.109},{"k":11,"g":1,"t":0.31,"r":1.203},{"k":11,"g":1,"t":0.385,"r":1.296},{"k":11,"g":1,"t":0.46,"r":1.335},{"k":11,"g":1,"t":0.535,"r":1.296},{"k":11,"g":1,"t":0.61,"r":1.203},{"k":11,"g":1,"t":0.685,"r":1.109},{"k":11,"g":1,"t":0.76,"r":1.045},{"k":11,"g":1,"t":0.835,"r":1.015},{"k":11,"g":1,"t":0.91,"r":1.004},{"k":11,"g":1,"t":5,"r":1},
{"k":12,"g":1,"t":-5,"r":1},{"k":12,"g":1,"t":-0.32,"r":1.004},{"k":12,"g":1,"t":-0.255,"r":1.016},{"k":12,"g":1,"t":-0.19,"r":1.05},{"k":12,"g":1,"t":-0.125,"r":1.12},{"k":12,"g":1,"t":-0.06,"r":1.224},{"k":12,"g":1,"t":0.005,"r":1.327},{"k":12,"g":1,"t":0.07,"r":1.37},{"k":12,"g":1,"t":0.135,"r":1.327},{"k":12,"g":1,"t":0.2,"r":1.224},{"k":12,"g":1,"t":0.265,"r":1.12},{"k":12,"g":1,"t":0.33,"r":1.05},{"k":12,"g":1,"t":0.395,"r":1.016},{"k":12,"g":1,"t":0.46,"r":1.004},{"k":12,"g":1,"t":5,"r":1},

{"k":1,"g":2,"t":4.75,"r":1.357,"lab":"1&2"},{"k":2,"g":2,"t":4.75,"r":1.357,"lab":"1&3"},{"k":3,"g":2,"t":4.75,"r":1.357,"lab":"1&4"},{"k":4,"g":2,"t":4.75,"r":1.357,"lab":"2&3"},{"k":5,"g":2,"t":4.75,"r":1.357,"lab":"2&4"},{"k":6,"g":2,"t":4.75,"r":1.357,"lab":"3&4"},
{"k":7,"g":2,"t":4.75,"r":1.357,"lab":"1&2"},{"k":8,"g":2,"t":4.75,"r":1.357,"lab":"1&3"},{"k":9,"g":2,"t":4.75,"r":1.357,"lab":"1&4"},{"k":10,"g":2,"t":4.75,"r":1.357,"lab":"2&3"},{"k":11,"g":2,"t":4.75,"r":1.357,"lab":"2&4"},{"k":12,"g":2,"t":4.75,"r":1.357,"lab":"3&4"},
{"k":1,"g":2,"t":-3,"r":1.23,"par":"t0 = 0.74 ns\n\u200b\u00a0σ\u00a0\u00a0= 0.21 ns"},{"k":2,"g":2,"t":-3,"r":1.23,"par":"t0 = 1.06 ns\n\u200b\u00a0σ\u00a0\u00a0= 0.14 ns"},{"k":3,"g":2,"t":-3,"r":1.23,"par":"t0 = 1.16 ns\n\u200b\u00a0σ\u00a0\u00a0= 0.15 ns"},{"k":4,"g":2,"t":-3,"r":1.23,"par":"t0 = 0.36 ns\n\u200b\u00a0σ\u00a0\u00a0= 0.14 ns"},{"k":5,"g":2,"t":-3,"r":1.23,"par":"t0 = 0.46 ns\n\u200b\u00a0σ\u00a0\u00a0= 0.14 ns"},{"k":6,"g":2,"t":-3,"r":1.23,"par":"t0 = 0.06 ns\n\u200b\u00a0σ\u00a0\u00a0= 0.11 ns"},
{"k":7,"g":2,"t":-3,"r":1.23,"par":"t0 = 0.67 ns\n\u200b\u00a0σ\u00a0\u00a0= 0.16 ns"},{"k":8,"g":2,"t":-3,"r":1.23,"par":"t0 = 1.06 ns\n\u200b\u00a0σ\u00a0\u00a0= 0.14 ns"},{"k":9,"g":2,"t":-3,"r":1.23,"par":"t0 = 1.16 ns\n\u200b\u00a0σ\u00a0\u00a0= 0.15 ns"},{"k":10,"g":2,"t":-3,"r":1.23,"par":"t0 = 0.36 ns\n\u200b\u00a0σ\u00a0\u00a0= 0.14 ns"},{"k":11,"g":2,"t":-3,"r":1.23,"par":"t0 = 0.46 ns\n\u200b\u00a0σ\u00a0\u00a0= 0.15 ns"},{"k":12,"g":2,"t":-3,"r":1.23,"par":"t0 = 0.07 ns\n\u200b\u00a0σ\u00a0\u00a0= 0.13 ns"},
{"k":1,"g":2,"t":-4.86,"r":1.286,"big":"VV"},{"k":7,"g":2,"t":-4.86,"r":1.286,"big":"VH"}
]},
"title":{"text":"HBT peaks","orient":"bottom","anchor":"middle","fontSize":86,"font":"Liberation Sans","fontWeight":"normal","color":"#000000","offset":-82,"dx":46},
"spacing":31,
"hconcat":[
{"width":11,"height":1090,"data":{"values":[{"a":1}]},"mark":{"type":"text"},"encoding":{"text":{"value":""}},"view":{"fill":"#0b5872","stroke":null}},
{"spacing":101,"hconcat":[
{"data":{"name":"d"},"transform":[{"filter":"datum.k <= 6"}],
"title":{"text":"Normalized Coincidence Rate","orient":"left","anchor":"middle","fontSize":35,"font":"DejaVu Sans","fontWeight":"normal","color":"#1a1a1a","offset":22,"dx":42},
"facet":{"row":{"field":"k","type":"ordinal","header":{"labels":false,"title":null}}},
"spacing":0,"bounds":"flush",
"spec":{"width":657,"height":160,
"encoding":{"x":{"field":"t","type":"quantitative","scale":{"domain":[-5,5],"nice":false,"zero":false},"axis":{"values":[-4,-2,0,2,4],"title":"Δt (ns)","titleX":316,"labelPadding":3}},
"y":{"field":"r","type":"quantitative","scale":{"domain":[0.9,1.5],"nice":false,"zero":false},"axis":{"values":[1,1.2,1.4],"format":".1f","title":null}}},
"layer":[
{"transform":[{"filter":"!datum.g"}],"mark":{"type":"circle","color":"#0000ff","size":34,"opacity":1,"clip":true}},
{"transform":[{"filter":"datum.g == 1"}],"mark":{"type":"line","color":"#ff0000","strokeWidth":2.2,"interpolate":"monotone","clip":true}},
{"transform":[{"filter":"isValid(datum.lab)"}],"mark":{"type":"text","align":"right","baseline":"alphabetic","fontSize":27},"encoding":{"text":{"field":"lab"}}},
{"transform":[{"filter":"isValid(datum.par)"}],"mark":{"type":"text","align":"left","baseline":"alphabetic","fontSize":21,"lineBreak":"\n","lineHeight":23},"encoding":{"text":{"field":"par"}}},
{"transform":[{"filter":"isValid(datum.big)"}],"mark":{"type":"text","align":"left","baseline":"alphabetic","fontSize":60},"encoding":{"text":{"field":"big"}}}
]}},
{"data":{"name":"d"},"transform":[{"filter":"datum.k > 6"}],
"title":{"text":"Normalized Coincidence Rate","orient":"left","anchor":"middle","fontSize":35,"font":"DejaVu Sans","fontWeight":"normal","color":"#1a1a1a","offset":22,"dx":42},
"facet":{"row":{"field":"k","type":"ordinal","header":{"labels":false,"title":null}}},
"spacing":0,"bounds":"flush",
"spec":{"width":657,"height":160,
"encoding":{"x":{"field":"t","type":"quantitative","scale":{"domain":[-5,5],"nice":false,"zero":false},"axis":{"values":[-4,-2,0,2,4],"title":"Δt (ns)","titleX":316,"labelPadding":3}},
"y":{"field":"r","type":"quantitative","scale":{"domain":[0.9,1.5],"nice":false,"zero":false},"axis":{"values":[1,1.2,1.4],"format":".1f","title":null}}},
"layer":[
{"transform":[{"filter":"!datum.g"}],"mark":{"type":"circle","color":"#0000ff","size":34,"opacity":1,"clip":true}},
{"transform":[{"filter":"datum.g == 1"}],"mark":{"type":"line","color":"#ff0000","strokeWidth":2.2,"interpolate":"monotone","clip":true}},
{"transform":[{"filter":"isValid(datum.lab)"}],"mark":{"type":"text","align":"right","baseline":"alphabetic","fontSize":27},"encoding":{"text":{"field":"lab"}}},
{"transform":[{"filter":"isValid(datum.par)"}],"mark":{"type":"text","align":"left","baseline":"alphabetic","fontSize":21,"lineBreak":"\n","lineHeight":23},"encoding":{"text":{"field":"par"}}},
{"transform":[{"filter":"isValid(datum.big)"}],"mark":{"type":"text","align":"left","baseline":"alphabetic","fontSize":60},"encoding":{"text":{"field":"big"}}}
]}}
]}
],
"config":{
"font":"DejaVu Sans",
"view":{"stroke":"#262626","strokeWidth":1.5},
"axis":{"domain":false,"grid":false,"ticks":true,"tickColor":"#262626","tickSize":5,"tickWidth":1.3,"labelFont":"DejaVu Sans","labelFontSize":20,"labelColor":"#262626","labelPadding":6,"titleFont":"DejaVu Sans","titleFontSize":31,"titleFontWeight":"normal","titleColor":"#1a1a1a","titlePadding":30},
"text":{"font":"DejaVu Sans","color":"#1a1a1a"}
}
}
